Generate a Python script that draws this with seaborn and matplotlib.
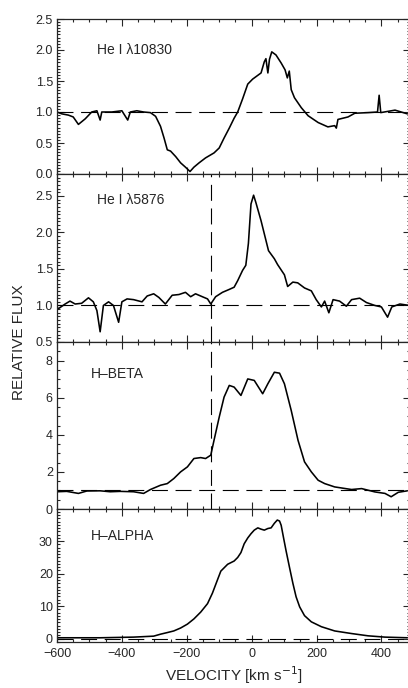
import numpy as np
import pandas as pd
import matplotlib
matplotlib.use("Agg")
import matplotlib.pyplot as plt
from matplotlib.ticker import MultipleLocator, FormatStrFormatter
import seaborn as sns

# He I 10830 profile
hei10830_vel = [-600, -585, -565, -550, -534, -513, -493, -477, -467, -462, -431, -400,
                -382, -374, -354, -333, -312, -296, -281, -270, -260, -250, -234, -219,
                -204, -190, -178, -162, -142, -116, -100, -85, -69, -54, -43, -28, -12,
                3, 29, 39, 44, 50, 55, 62, 75, 91, 103, 110, 116, 122, 132, 153, 174,
                205, 235, 256, 261, 266, 297, 318, 359, 388, 393, 398, 442, 480]
hei10830_flux = [1.0, 0.97, 0.95, 0.92, 0.80, 0.89, 1.0, 1.02, 0.87, 1.0, 1.0, 1.02,
                 0.87, 1.0, 1.02, 1.0, 0.99, 0.93, 0.77, 0.58, 0.39, 0.37, 0.28, 0.18,
                 0.11, 0.04, 0.11, 0.18, 0.26, 0.34, 0.42, 0.58, 0.74, 0.90, 1.0, 1.21, 1.45,
                 1.53, 1.63, 1.81, 1.86, 1.63, 1.85, 1.97, 1.92, 1.79, 1.68, 1.55, 1.66, 1.36, 1.23, 1.07, 0.94,
                 0.83, 0.76, 0.78, 0.74, 0.88, 0.92, 0.98, 0.99, 1.00, 1.27, 0.99, 1.03, 0.97]

# He I 5876 profile
hei5876_vel = [-600, -596, -575, -560, -544, -524, -503, -488, -477, -467, -457, -441,
               -426, -410, -400, -384, -364, -338, -322, -302, -286, -266, -245, -224,
               -204, -188, -173, -152, -136, -126, -111, -90, -69, -54, -43, -28, -18,
               -10, -2, 6, 13, 29, 52, 70, 80, 101, 111, 127, 142, 163, 184, 199, 215,
               225, 238, 251, 271, 292, 308, 333, 354, 380, 400, 419, 432, 457, 487]
hei5876_flux = [0.98, 0.955, 1.02, 1.06, 1.02, 1.03, 1.105, 1.05, 0.93, 0.64, 1.0, 1.05,
                1.0, 0.77, 1.05, 1.09, 1.08, 1.05, 1.13, 1.16, 1.11, 1.02, 1.14, 1.15,
                1.18, 1.12, 1.16, 1.12, 1.09, 1.02, 1.12, 1.18, 1.22, 1.25, 1.34, 1.48, 1.55,
                1.85, 2.39, 2.51, 2.41, 2.16, 1.75, 1.64, 1.56, 1.42, 1.26, 1.32, 1.31, 1.24, 1.20, 1.08, 0.98,
                1.06, 0.90, 1.08, 1.06, 0.99, 1.08, 1.10, 1.04, 1.0, 0.98, 0.84, 0.98, 1.02, 1.0]

# H-beta profile
hbeta_vel = [-600, -570, -534, -508, -467, -436, -405, -364, -333, -312, -281, -260,
             -240, -219, -198, -178, -157, -142, -126, -116, -100, -85, -69, -54, -33,
             -12, 8, 34, 50, 70, 86, 101, 122, 143, 163, 184, 205, 225, 256, 308, 339,
             380, 411, 430, 452, 480]
hbeta_flux = [0.93, 0.95, 0.84, 0.97, 0.98, 0.93, 0.95, 0.93, 0.84, 1.05, 1.28, 1.37,
              1.64, 2.00, 2.27, 2.72, 2.77, 2.72, 2.90, 3.70, 4.95, 6.03, 6.66, 6.57, 6.12,
              7.01, 6.93, 6.21, 6.75, 7.37, 7.32, 6.75, 5.31, 3.70, 2.54, 2.00, 1.55, 1.37, 1.19, 1.05, 1.10,
              0.92, 0.84, 0.66, 0.90, 0.98]

# H-alpha profile
halpha_vel = [-600, -467, -364, -302, -281, -260, -240, -219, -198, -178, -157, -136,
              -121, -105, -95, -85, -74, -54, -43, -33, -23, -12, -2, 8, 19, 29, 39,
              50, 60, 70, 79, 86, 91, 99, 106, 117, 127, 137, 148, 163, 184, 215, 256,
              308, 359, 411, 480]
halpha_flux = [0.3, 0.3, 0.5, 0.8, 1.4, 1.9, 2.4, 3.3, 4.5, 6.1, 8.2, 10.8,
               14.0, 18.2, 20.8, 21.8, 22.9, 23.9, 25.0, 26.5, 29.2, 31.0, 32.3, 33.4, 34.1, 33.7, 33.4,
               33.9, 34.1, 35.5, 36.5, 36.2, 34.9, 30.7, 27.1, 21.8, 17.1, 12.9, 9.8, 7.1, 5.2, 3.7, 2.4,
               1.6, 0.9, 0.5, 0.3]

line_names = ["He I \u03bb10830", "He I \u03bb5876", "H\u2013BETA", "H\u2013ALPHA"]
continuum = [1.0, 1.0, 1.0, 0.0]
marker_velocity = -125

sns.set_style("ticks")
plt.rcParams["font.family"] = ["Liberation Sans", "DejaVu Sans"]
plt.rcParams["lines.scale_dashes"] = False

fig = plt.figure(figsize=(4.08, 6.88), dpi=100)
H = 688.0
W = 408.0
left = 57 / W
right_edge = 1.004
bounds = [(19, 174), (174, 342), (342, 509), (509, 642)]
axes = []
for top, bot in bounds:
    ax = fig.add_axes([left, (H - bot) / H, right_edge - left, (bot - top) / H])
    axes.append(ax)

profiles = [
    (hei10830_vel, hei10830_flux),
    (hei5876_vel, hei5876_flux),
    (hbeta_vel, hbeta_flux),
    (halpha_vel, halpha_flux),
]
ylims = [(0.0, 2.5), (0.5, 2.8), (0.0, 9.0), (-1.0, 39.9)]
ymaj = [0.5, 0.5, 2, 10]
ymin = [0.05, 0.05, 0.5, 1]
label_y = [2.0, 2.45, 7.25, 31.6]
dash = (0, (11.5, 5.5))

for i, ax in enumerate(axes):
    v, f = profiles[i]
    df = pd.DataFrame({"velocity": v, "flux": f})
    sns.lineplot(data=df, x="velocity", y="flux", ax=ax, color="black",
                 linewidth=1.15, sort=True, estimator=None)
    ax.axhline(continuum[i], color="black", linewidth=0.8, linestyle=dash)
    if i in (1, 2):
        ax.axvline(marker_velocity, color="black", linewidth=0.8, linestyle=dash)
    ax.set_xlim(-600, 487)
    ax.set_ylim(*ylims[i])
    ax.xaxis.set_major_locator(MultipleLocator(200))
    ax.xaxis.set_minor_locator(MultipleLocator(50))
    ax.yaxis.set_major_locator(MultipleLocator(ymaj[i]))
    ax.yaxis.set_minor_locator(MultipleLocator(ymin[i]))
    ax.tick_params(which="both", direction="in", top=True, right=True,
                   width=0.8, labelsize=9, pad=3)
    ax.tick_params(axis="x", which="major", pad=4)
    ax.tick_params(which="major", length=5)
    ax.tick_params(which="minor", length=2.5)
    for s in ax.spines.values():
        s.set_linewidth(0.9)
    ax.set_xlabel("")
    ax.set_ylabel("")
    if i < 3:
        ax.set_xticklabels([])
    ax.text(-476 if i < 2 else -497, label_y[i], line_names[i], fontsize=10,
            ha="left", va="center")

axes[0].yaxis.set_major_formatter(FormatStrFormatter("%.1f"))
axes[1].yaxis.set_major_formatter(FormatStrFormatter("%.1f"))
axes[3].set_xlabel("VELOCITY [km s$^{-1}$]", fontsize=11, labelpad=3.5)
fig.text(19 / W, (H - 342) / H, "RELATIVE FLUX", rotation=90, fontsize=11,
         ha="center", va="center")

fig.savefig("out.png", dpi=100)
